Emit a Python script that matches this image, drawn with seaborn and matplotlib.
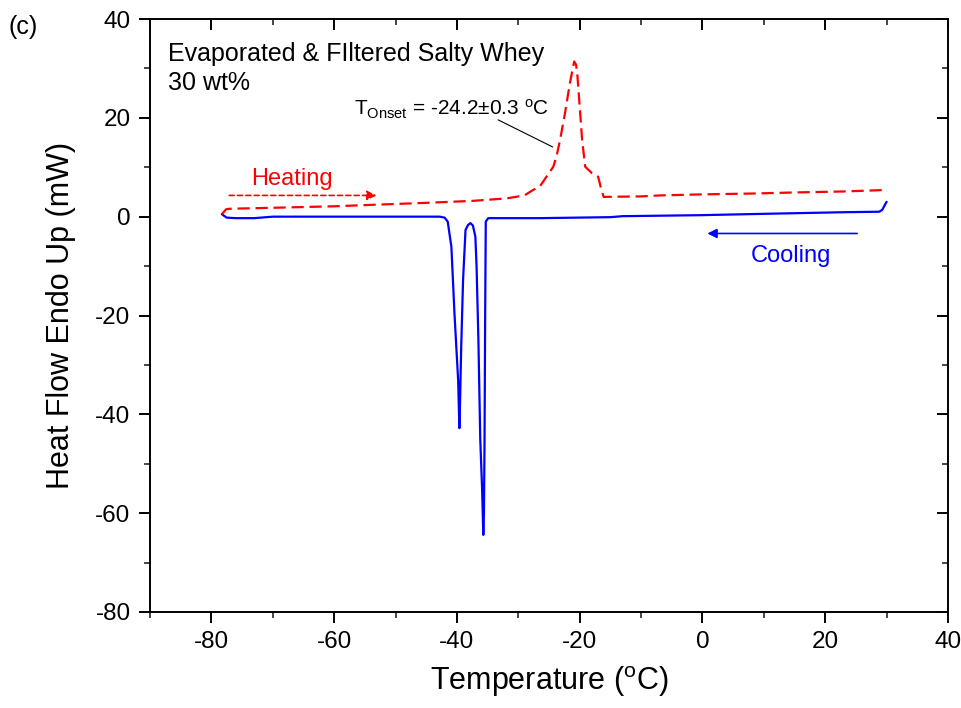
import matplotlib
matplotlib.use("Agg")
import matplotlib.pyplot as plt
import numpy as np
import pandas as pd
import seaborn as sns

# heating run (red dashed), in recorded order
heat_temp = [-78.3, -77.6, -77.0, -70.0, -60.0, -53.7, -45.0, -37.4, -31.9, -29.0,
             -27.6, -26.5, -25.4, -24.3, -23.8, -23.2, -22.4, -21.6, -20.9, -20.6,
             -20.4, -20.0, -19.6, -19.1, -18.0, -17.0, -16.6, -16.1, -10.0, -6.9,
             -0.4, 8.9, 15.0, 23.0, 29.8, 30.0]
heat_flow = [0.5, 1.5, 1.6, 1.8, 2.1, 2.4, 2.8, 3.2, 3.7, 4.3,
             5.4, 6.1, 8.1, 10.1, 12.1, 15.5, 20.9, 27.0, 31.4, 30.8,
             29.0, 22.3, 15.5, 10.1, 8.8, 8.1, 6.1, 4.0, 4.1, 4.3,
             4.5, 4.7, 4.9, 5.1, 5.4, 5.6]

# cooling run (blue solid), recorded from +30 down to -78
cool_temp = [30.0, 29.8, 29.3, 28.8, 23.0, 11.0, -0.4, -13.0, -15.0, -26.5,
             -34.9, -35.3, -35.4, -35.5, -35.6, -35.7, -35.9, -36.2, -36.5, -36.8,
             -37.0, -37.4, -37.8, -38.2, -38.6, -39.0, -39.3, -39.5, -39.6, -39.8,
             -40.4, -40.9, -41.5, -42.0, -42.8, -50.0, -65.0, -70.0, -73.0, -76.0,
             -77.5, -78.3]
cool_flow = [3.0, 2.6, 1.4, 1.0, 0.9, 0.6, 0.3, 0.1, -0.1, -0.3,
             -0.3, -1.0, -20.0, -45.0, -60.0, -64.4, -55.0, -45.0, -25.0, -10.0,
             -4.0, -1.8, -1.3, -1.7, -2.7, -12.8, -26.3, -38.0, -42.8, -33.1,
             -19.6, -6.1, -1.0, -0.2, 0.0, 0.0, 0.0, 0.0, -0.3, -0.3,
             -0.2, 0.5]

heat = pd.DataFrame({"T": heat_temp, "Q": heat_flow})
cool = pd.DataFrame({"T": cool_temp, "Q": cool_flow})

sns.set_theme(style="ticks")
plt.rcParams["font.family"] = ["Liberation Sans", "DejaVu Sans"]
plt.rcParams["mathtext.fontset"] = "custom"
plt.rcParams["mathtext.rm"] = "Liberation Sans"
plt.rcParams["mathtext.it"] = "Liberation Sans:italic"
plt.rcParams["axes.unicode_minus"] = False
plt.rcParams["text.color"] = "black"
plt.rcParams["axes.labelcolor"] = "black"

fig = plt.figure(figsize=(9.62, 7.08), dpi=100)
ax = fig.add_axes([150 / 962, 1 - 612 / 708, (948 - 150) / 962, (612 - 19) / 708])

sns.lineplot(data=cool, x="T", y="Q", sort=False, color="#0000ff", lw=1.6, ax=ax)
sns.lineplot(data=heat, x="T", y="Q", sort=False, color="#ff0000", lw=1.6,
             ax=ax, dashes=False)
ax.lines[-1].set_dashes((5.5, 2.6))

ax.set_xlim(-90, 40)
ax.set_ylim(-80, 40)
ax.set_xticks([-80, -60, -40, -20, 0, 20, 40])
ax.set_yticks([-80, -60, -40, -20, 0, 20, 40])
ax.set_xticks(np.arange(-90, 41, 10), minor=True)
ax.set_yticks(np.arange(-80, 41, 10), minor=True)

for side in ["left", "right", "top", "bottom"]:
    ax.spines[side].set_visible(True)
    ax.spines[side].set_linewidth(1.4)
    ax.spines[side].set_color("black")

ax.tick_params(which="major", direction="out", length=8, width=1.4,
               labelsize=17.5, colors="black", labelcolor="black", pad=6)
ax.tick_params(which="minor", direction="out", length=4, width=1.2)
ax.tick_params(which="both", top=True, right=True)
# top and right ticks point inwards
for t in ax.xaxis.get_major_ticks() + ax.xaxis.get_minor_ticks():
    t.tick2line.set_marker(matplotlib.markers.TICKDOWN)
for t in ax.yaxis.get_major_ticks() + ax.yaxis.get_minor_ticks():
    t.tick2line.set_marker(matplotlib.markers.TICKLEFT)

ax.set_xlabel(r"Temperature ($^{\mathrm{o}}$C)", fontsize=22, labelpad=8)
ax.set_ylabel("Heat Flow Endo Up (mW)", fontsize=22, labelpad=14)

fig.text(8 / 962, 1 - 34 / 708, "(c)", fontsize=18)
ax.text(-87, 30.0, "Evaporated & FIltered Salty Whey\n30 wt%", fontsize=18,
        va="center", ha="left", linespacing=1.3)
ax.text(-56.8, 20.4, r"T$_{\mathrm{Onset}}$ = -24.2±0.3 $^{\mathrm{o}}$C",
        fontsize=15, va="baseline")
ax.plot([-33.3, -24.4], [19.6, 14.1], color="black", lw=0.8)

ax.text(-73.5, 6.4, "Heating", color="#ff0000", fontsize=17, va="baseline")
ax.annotate("", xy=(-53.1, 4.3), xytext=(-77.1, 4.3),
            arrowprops=dict(arrowstyle="-|>", color="#ff0000", lw=1.2,
                            linestyle=(0, (3, 2)), mutation_scale=14,
                            shrinkA=0, shrinkB=0))
ax.text(7.8, -9.1, "Cooling", color="#0000ff", fontsize=17, va="baseline")
ax.annotate("", xy=(0.8, -3.4), xytext=(25.2, -3.4),
            arrowprops=dict(arrowstyle="-|>", color="#0000ff", lw=1.2,
                            mutation_scale=14, shrinkA=0, shrinkB=0))

fig.savefig("out.png", dpi=100)
